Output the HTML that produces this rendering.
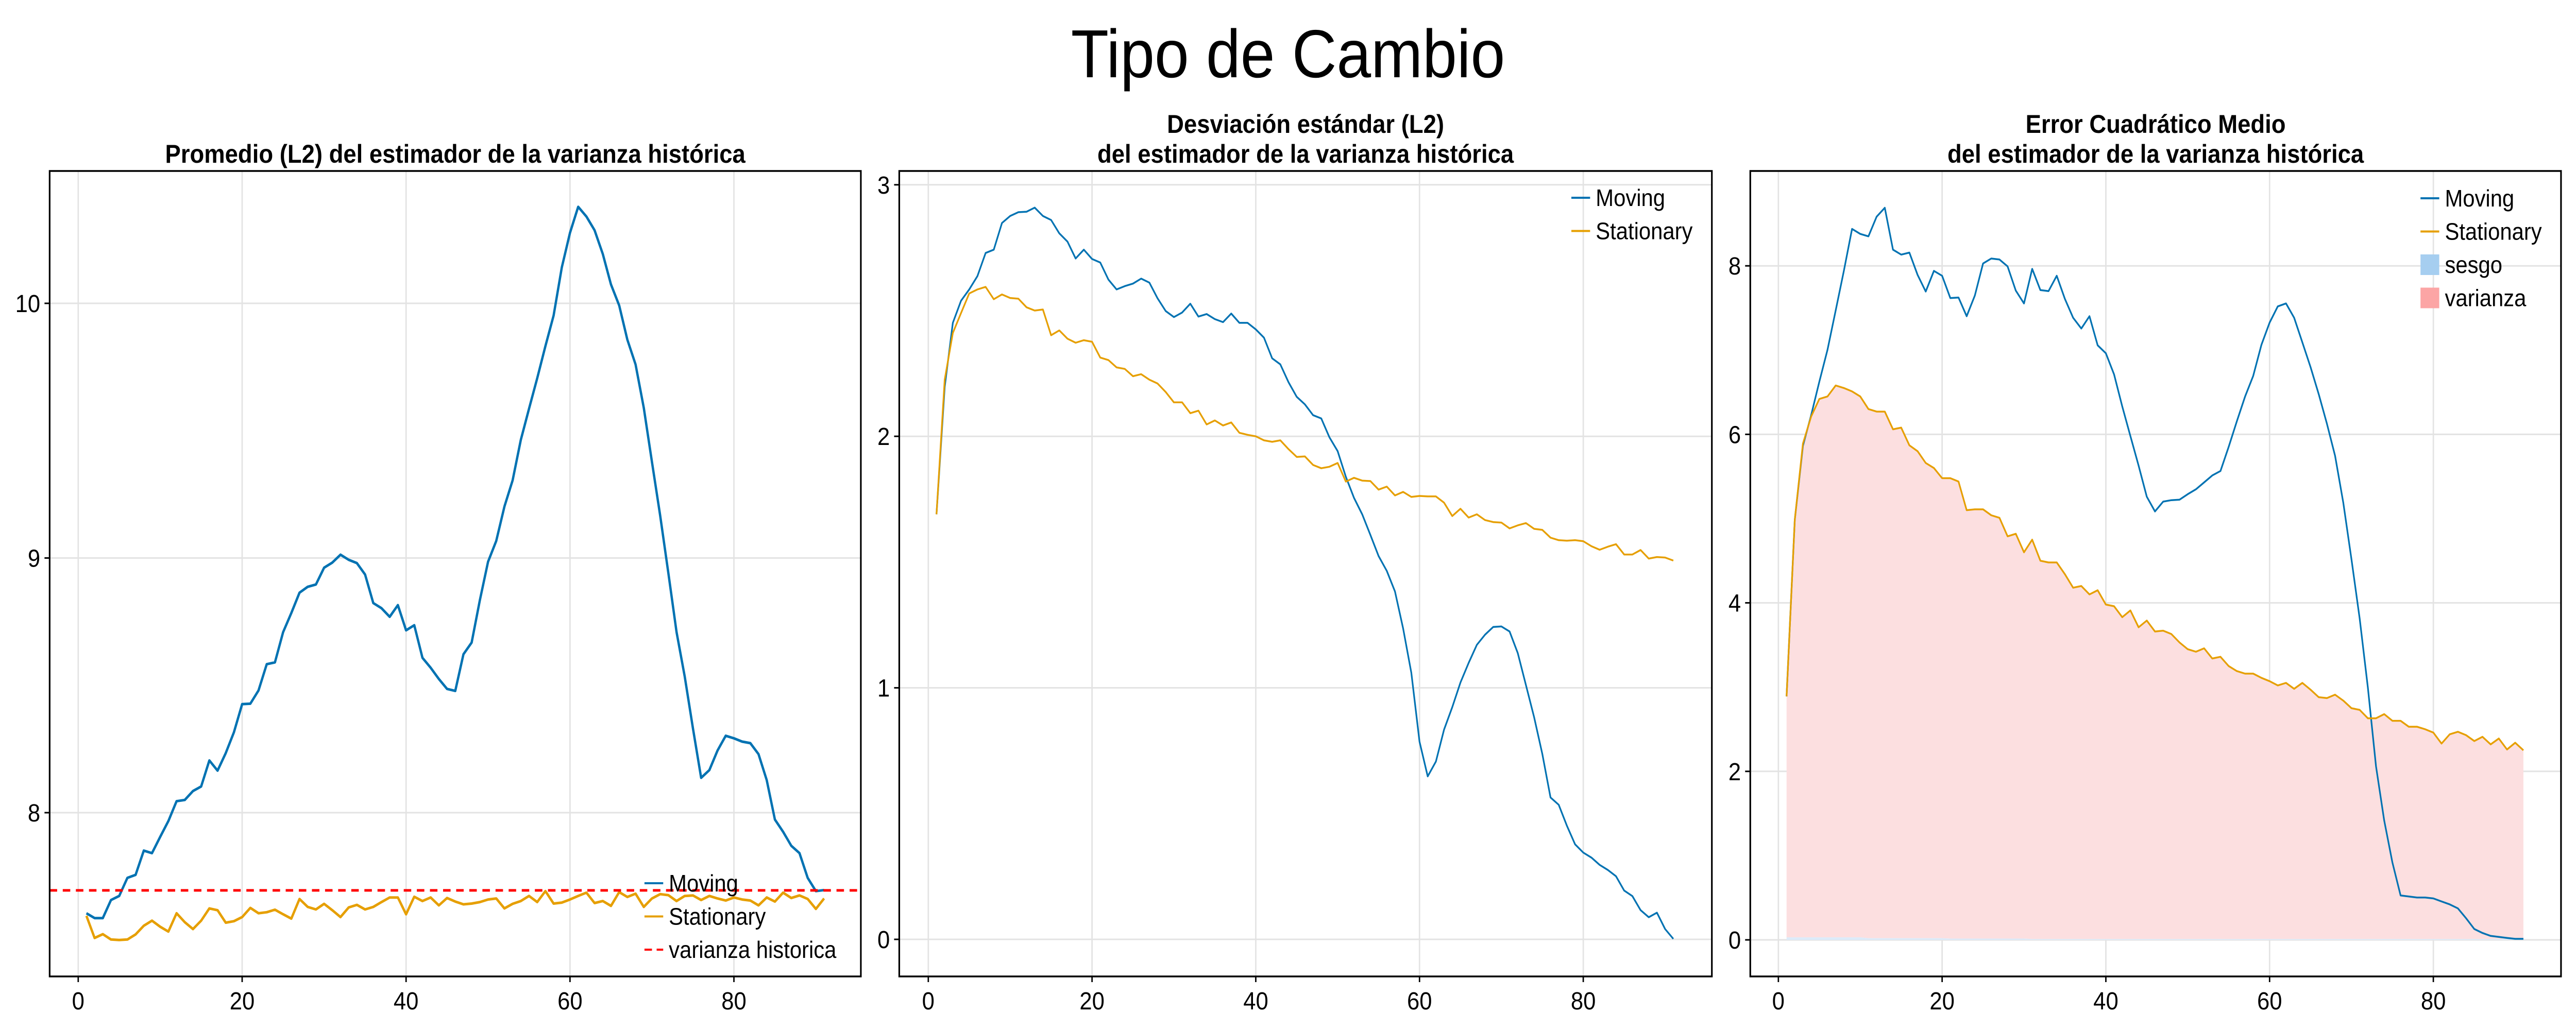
<!DOCTYPE html>
<html><head><meta charset="utf-8"><style>
html,body{margin:0;padding:0;background:#fff;overflow:hidden;width:100vw;height:100vh;}
svg{display:block;font-family:"Liberation Sans",Arial,sans-serif;width:100vw;height:100vh;}
</style></head><body>
<svg id="fig" xmlns="http://www.w3.org/2000/svg" viewBox="0 0 5500 2000" preserveAspectRatio="none">
<rect width="5500" height="2000" fill="#fff"/>
<text x="2750" y="150" text-anchor="middle" font-size="132">Tipo de Cambio</text>
</svg>
<script>
const xs = Array.from({length:91},(_,i)=>i+1);
const p1Moving=[7.605,7.586,7.586,7.657,7.673,7.744,7.756,7.851,7.841,7.905,7.967,8.045,8.050,8.085,8.103,8.205,8.165,8.234,8.316,8.426,8.428,8.480,8.583,8.590,8.709,8.784,8.864,8.887,8.896,8.962,8.982,9.013,8.993,8.980,8.935,8.823,8.803,8.769,8.815,8.716,8.736,8.608,8.569,8.525,8.486,8.478,8.622,8.668,8.834,8.985,9.067,9.202,9.305,9.464,9.586,9.706,9.832,9.952,10.141,10.277,10.379,10.341,10.287,10.194,10.074,9.992,9.857,9.760,9.590,9.377,9.167,8.941,8.709,8.534,8.331,8.137,8.167,8.244,8.302,8.292,8.279,8.273,8.230,8.128,7.973,7.925,7.870,7.841,7.744,7.692,7.696];
const p1Stationary=[7.595,7.508,7.523,7.502,7.500,7.502,7.522,7.556,7.576,7.552,7.533,7.605,7.570,7.543,7.576,7.624,7.617,7.568,7.574,7.590,7.626,7.605,7.609,7.619,7.601,7.584,7.661,7.630,7.620,7.642,7.617,7.590,7.628,7.638,7.620,7.630,7.649,7.667,7.667,7.601,7.670,7.653,7.667,7.636,7.665,7.651,7.640,7.643,7.649,7.659,7.663,7.624,7.642,7.653,7.673,7.649,7.692,7.643,7.647,7.659,7.673,7.686,7.645,7.653,7.634,7.688,7.669,7.682,7.630,7.663,7.680,7.676,7.653,7.673,7.675,7.657,7.673,7.663,7.655,7.667,7.659,7.655,7.636,7.667,7.651,7.686,7.665,7.675,7.661,7.622,7.663];
const p1Historic=[7.695];
const p2Moving=[1.690,2.196,2.451,2.539,2.584,2.637,2.729,2.742,2.848,2.876,2.891,2.893,2.909,2.876,2.860,2.807,2.774,2.707,2.742,2.705,2.691,2.623,2.584,2.597,2.607,2.627,2.611,2.549,2.498,2.474,2.492,2.527,2.476,2.486,2.466,2.454,2.488,2.451,2.451,2.425,2.392,2.310,2.286,2.215,2.157,2.127,2.084,2.071,1.996,1.941,1.839,1.755,1.690,1.608,1.524,1.465,1.383,1.236,1.060,0.786,0.648,0.707,0.834,0.923,1.021,1.099,1.171,1.211,1.242,1.244,1.224,1.138,1.011,0.883,0.737,0.564,0.535,0.452,0.378,0.345,0.325,0.296,0.276,0.251,0.194,0.172,0.116,0.088,0.106,0.041,0.002];
const p2Stationary=[1.690,2.225,2.411,2.490,2.568,2.584,2.594,2.545,2.564,2.550,2.547,2.513,2.500,2.504,2.402,2.421,2.388,2.372,2.382,2.376,2.313,2.303,2.274,2.268,2.239,2.247,2.225,2.210,2.176,2.135,2.135,2.092,2.102,2.047,2.063,2.043,2.055,2.014,2.006,2.000,1.984,1.978,1.984,1.949,1.918,1.920,1.886,1.873,1.879,1.894,1.820,1.835,1.824,1.822,1.788,1.800,1.765,1.779,1.759,1.763,1.761,1.761,1.736,1.683,1.712,1.677,1.690,1.667,1.659,1.657,1.634,1.646,1.655,1.632,1.628,1.597,1.587,1.585,1.587,1.583,1.563,1.549,1.561,1.571,1.530,1.530,1.548,1.514,1.520,1.518,1.506];
const p3Moving=[2.89,4.985,5.863,6.226,6.624,7.004,7.472,7.940,8.438,8.379,8.350,8.584,8.689,8.192,8.133,8.157,7.893,7.695,7.940,7.882,7.618,7.624,7.402,7.648,8.028,8.087,8.075,7.993,7.706,7.554,7.964,7.712,7.700,7.882,7.607,7.384,7.256,7.402,7.057,6.963,6.712,6.331,5.980,5.629,5.260,5.085,5.202,5.219,5.225,5.290,5.348,5.430,5.512,5.565,5.851,6.156,6.448,6.694,7.062,7.326,7.519,7.554,7.384,7.092,6.799,6.477,6.126,5.746,5.190,4.517,3.815,2.996,2.060,1.416,0.919,0.527,0.515,0.503,0.503,0.492,0.456,0.421,0.374,0.257,0.129,0.082,0.047,0.035,0.023,0.012,0.012];
const p3Stationary=[2.89,4.985,5.89,6.21,6.42,6.45,6.58,6.55,6.51,6.45,6.30,6.27,6.27,6.06,6.08,5.87,5.80,5.66,5.60,5.48,5.48,5.44,5.10,5.11,5.11,5.04,5.01,4.79,4.82,4.60,4.75,4.50,4.48,4.48,4.34,4.18,4.20,4.10,4.15,3.98,3.96,3.83,3.91,3.71,3.79,3.66,3.67,3.63,3.53,3.45,3.42,3.46,3.34,3.36,3.25,3.19,3.16,3.16,3.11,3.07,3.02,3.05,2.98,3.05,2.97,2.88,2.87,2.91,2.84,2.75,2.73,2.63,2.63,2.68,2.60,2.60,2.53,2.53,2.50,2.46,2.33,2.44,2.47,2.43,2.36,2.41,2.32,2.39,2.26,2.34,2.25];
const p3Sesgo=[0.03,0.03,0.03,0.03,0.03,0.03,0.03,0.03,0.03,0.03,0.02,0.02,0.02,0.02,0.02,0.02,0.02,0.02,0.02,0.02,0.015,0.015,0.015,0.015,0.015,0.015,0.015,0.015,0.015,0.015,0.01,0.01,0.01,0.01,0.01,0.01,0.01,0.01,0.01,0.01,0.01,0.01,0.01,0.01,0.01,0.01,0.01,0.01,0.01,0.01,0.01,0.01,0.01,0.01,0.01,0.01,0.01,0.01,0.01,0.01,0.01,0.01,0.01,0.01,0.01,0.01,0.01,0.01,0.01,0.01,0.01,0.01,0.01,0.01,0.01,0.01,0.01,0.01,0.01,0.01,0.01,0.01,0.01,0.01,0.01,0.01,0.01,0.01,0.01,0.01,0.01];
const xTicks=[0,20,40,60,80];
const p1YTicks=[8,9,10];
const p2YTicks=[0,1,2,3];
const p3YTicks=[0,2,4,6,8];

const NS="http://www.w3.org/2000/svg";
const svg=document.getElementById('fig');
const BLUE="#0072b2", ORANGE="#e69f00";
function mk(tag,attrs,parent){const e=document.createElementNS(NS,tag);for(const k in attrs)e.setAttribute(k,attrs[k]);(parent||svg).appendChild(e);return e;}

function panel(cfg){
  const g=mk('g',{});
  
  
  const X=v=>cfg.x0+v*cfg.xs;
  const Y=v=>cfg.y0-(v-cfg.yb)*cfg.ys;
  cfg.X=X;cfg.Y=Y;
  xTicks.forEach(t=>{const l=mk('line',{x1:X(t),x2:X(t),y1:cfg.top,y2:cfg.bottom,stroke:'#e3e3e3','stroke-width':3},g);
    
    });
  cfg.yTicks.forEach(t=>{const l=mk('line',{x1:cfg.left,x2:cfg.right,y1:Y(t),y2:Y(t),stroke:'#e3e3e3','stroke-width':3},g);
    
    });
  cfg.drawSeries(cfg,g);
  const f=mk('rect',{x:cfg.left,y:cfg.top,width:cfg.right-cfg.left,height:cfg.bottom-cfg.top,fill:'none',stroke:'#000','stroke-width':3.5},g);
  
  
  xTicks.forEach(t=>{
    mk('line',{x1:X(t),x2:X(t),y1:cfg.bottom,y2:cfg.bottom+11,stroke:'#000','stroke-width':3},g);
    const tx=mk('text',{x:X(t),y:1960,'text-anchor':'middle','font-size':48},g);
    tx.textContent=t;
    
    
  });
  cfg.yTicks.forEach(t=>{
    mk('line',{x1:cfg.left-11,x2:cfg.left,y1:Y(t),y2:Y(t),stroke:'#000','stroke-width':3},g);
    const tx=mk('text',{x:cfg.left-20,y:Y(t)+17,'text-anchor':'end','font-size':48},g);
    tx.textContent=t;
    
    
  });
  const cx=(cfg.left+cfg.right)/2;
  cfg.title.forEach((s,i)=>{
    const base=cfg.title.length===1?316:258+i*58;
    const tx=mk('text',{x:cx,y:base,'text-anchor':'middle','font-size':50,'font-weight':'bold'},g);
    tx.textContent=s;
    
    
  });
  const lg=mk('g',{},g);
  
  
  cfg.legend.forEach((it,i)=>{
    const cy=cfg.legY+i*64.5;
    if(it.type==='line'){
      mk('line',{x1:cfg.legX,x2:cfg.legX+40,y1:cy,y2:cy,stroke:it.color,'stroke-width':it.w||4,'stroke-dasharray':it.dash||'none'},lg);
    } else {
      mk('rect',{x:cfg.legX,y:cy-20,width:40,height:40,fill:it.color},lg);
    }
    const tx=mk('text',{x:cfg.legX+52,y:cy+16,'font-size':46},lg);
    tx.textContent=it.label;
    
    
  });
}
function pathFor(cfg,arr){return arr.map((v,i)=>(i?'L':'M')+cfg.X(xs[i]).toFixed(1)+' '+cfg.Y(v).toFixed(1)).join(' ');}
function line(cfg,g,arr,color,w,name){
  const p=mk('path',{d:pathFor(cfg,arr),fill:'none',stroke:color,'stroke-width':w,'stroke-linejoin':'round'},g);
  
  
}

panel({name:'panel-promedio',left:106,right:1838,top:332,bottom:1896,x0:167,xs:17.5,y0:1578,yb:8,ys:494.5,
  yTicks:p1YTicks,title:['Promedio (L2) del estimador de la varianza histórica'],
  legX:1376,legY:1715,
  legend:[{type:'line',color:BLUE,label:'Moving'},{type:'line',color:ORANGE,label:'Stationary'},{type:'line',color:'#ff0000',dash:'16 10',label:'varianza historica'}],
  drawSeries:(c,g)=>{
    line(c,g,p1Moving,BLUE,5,'moving-line');
    line(c,g,p1Stationary,ORANGE,5,'stationary-line');
    const h=mk('line',{x1:c.left,x2:c.right,y1:c.Y(p1Historic[0]),y2:c.Y(p1Historic[0]),stroke:'#ff0000','stroke-width':5,'stroke-dasharray':'16 12'},g);
    
    
  }});

panel({name:'panel-desviacion',left:1920,right:3655,top:332,bottom:1896,x0:1982,xs:17.48,y0:1824,yb:0,ys:488.4,
  yTicks:p2YTicks,title:['Desviación estándar (L2)','del estimador de la varianza histórica'],
  legX:3355,legY:384,
  legend:[{type:'line',color:BLUE,label:'Moving'},{type:'line',color:ORANGE,label:'Stationary'}],
  drawSeries:(c,g)=>{
    line(c,g,p2Moving,BLUE,3.5,'moving-line');
    line(c,g,p2Stationary,ORANGE,3.5,'stationary-line');
  }});

panel({name:'panel-ecm',left:3737,right:5468,top:332,bottom:1896,x0:3797,xs:17.48,y0:1825,yb:0,ys:163.6,
  yTicks:p3YTicks,title:['Error Cuadrático Medio','del estimador de la varianza histórica'],
  legX:5168,legY:385,
  legend:[{type:'line',color:BLUE,label:'Moving'},{type:'line',color:ORANGE,label:'Stationary'},{type:'rect',color:'#a6cef0',label:'sesgo'},{type:'rect',color:'#fca5a5',label:'varianza'}],
  drawSeries:(c,g)=>{
    const top=p3Stationary.map((v,i)=>c.X(xs[i]).toFixed(1)+','+c.Y(v).toFixed(1));
    const base=p3Sesgo.map((v,i)=>c.X(xs[i]).toFixed(1)+','+c.Y(v).toFixed(1)).reverse();
    const va=mk('polygon',{points:top.concat(base).join(' '),fill:'#fcdfe0'},g);
    
    
    const st=p3Sesgo.map((v,i)=>c.X(xs[i]).toFixed(1)+','+c.Y(v).toFixed(1));
    const sb=[c.X(xs[90]).toFixed(1)+','+c.Y(0).toFixed(1),c.X(xs[0]).toFixed(1)+','+c.Y(0).toFixed(1)];
    const se=mk('polygon',{points:st.concat(sb).join(' '),fill:'#dcebfa'},g);
    
    
    line(c,g,p3Moving,BLUE,3.5,'moving-line');
    line(c,g,p3Stationary,ORANGE,3.5,'stationary-line');
  }});
</script>
</body></html>
